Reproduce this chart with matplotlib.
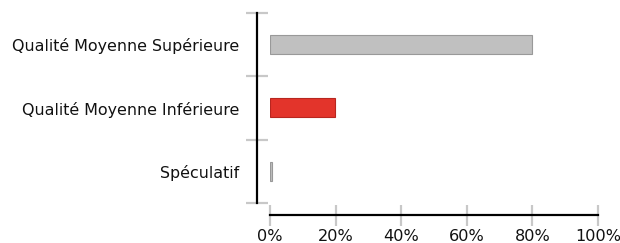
import matplotlib
matplotlib.use("Agg")
import matplotlib.pyplot as plt
from matplotlib.ticker import FixedLocator

plt.rcParams["font.family"] = ["DejaVu Sans"]

categories = ["Qualité Moyenne Supérieure", "Qualité Moyenne Inférieure", "Spéculatif"]
values = [80.0, 19.8, 0.6]
colors = ["#c0c0c0", "#e3342b", "#c0c0c0"]
edges = ["#999999", "#b8261f", "#999999"]
xticks = [0, 20, 40, 60, 80, 100]
xticklabels = ["0%", "20%", "40%", "60%", "80%", "100%"]

W, H = 620, 243
fig = plt.figure(figsize=(W / 100, H / 100), dpi=100)
left, right, top, bottom = 270, 598, 13, 203
ax = fig.add_axes([left / W, (H - bottom) / H, (right - left) / W, (bottom - top) / H])

ypos = [2, 1, 0]
ax.barh(ypos, values, height=0.3, color=colors, edgecolor=edges, linewidth=0.8, zorder=3)

ax.set_xlim(0, 100)
ax.set_ylim(-0.5, 2.5)

for s in ["top", "right"]:
    ax.spines[s].set_visible(False)
px = 72 / 100
ax.spines["left"].set_position(("outward", 13 * px))
ax.spines["bottom"].set_position(("outward", 12 * px))
ax.spines["left"].set_linewidth(2.2 * px)
ax.spines["bottom"].set_linewidth(2.2 * px)
ax.spines["left"].set_color("black")
ax.spines["bottom"].set_color("black")

ax.set_xticks(xticks)
ax.set_xticklabels(xticklabels)
ax.yaxis.set_major_locator(FixedLocator(ypos))
ax.set_yticklabels(categories)
ax.yaxis.set_minor_locator(FixedLocator([-0.5, 0.5, 1.5, 2.5]))

ax.tick_params(axis="y", which="major", length=0, pad=18 * px, labelsize=11.4, labelcolor="#111111")
ax.tick_params(axis="y", which="minor", direction="inout", length=23 * px, width=2.2 * px, color="#c8c8c8")
ax.tick_params(axis="x", which="major", direction="inout", length=21 * px, width=2.2 * px, color="#c8c8c8",
               pad=3 * px, labelsize=11.6, labelcolor="#111111")

fig.savefig("out.png", dpi=100)
